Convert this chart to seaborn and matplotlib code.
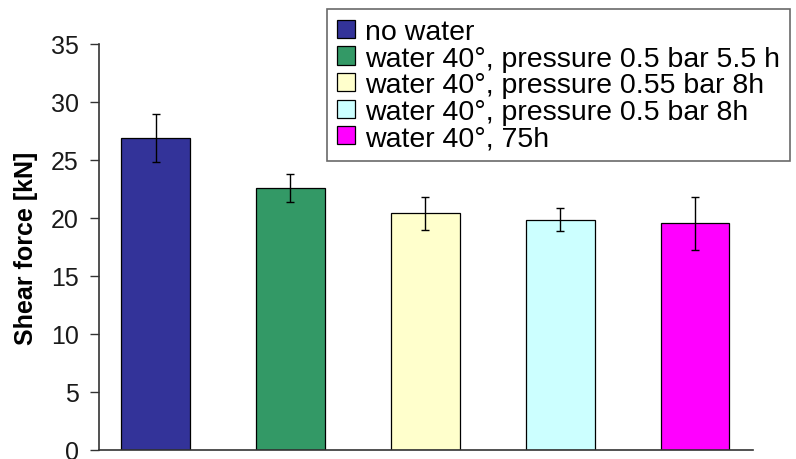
#!/usr/bin/env python3
"""Shear force by water exposure condition, bar chart with error bars."""

import matplotlib

matplotlib.use("Agg")
import matplotlib.pyplot as plt
import pandas as pd
import seaborn as sns
from matplotlib.patches import Patch

conditions = [
    "no water",
    "water 40°, pressure 0.5 bar 5.5 h",
    "water 40°, pressure 0.55 bar 8h",
    "water 40°, pressure 0.5 bar 8h",
    "water 40°, 75h",
]
shear_force = [26.9, 22.6, 20.4, 19.85, 19.55]
shear_err = [2.1, 1.2, 1.4, 1.0, 2.3]
bar_colors = ["#333399", "#339966", "#FFFFCC", "#CCFFFF", "#FF00FF"]
y_ticks = [0, 5, 10, 15, 20, 25, 30, 35]

sns.set_theme(style="white")
plt.rcParams["font.family"] = ["Liberation Sans", "DejaVu Sans"]
plt.rcParams["text.color"] = "black"

df = pd.DataFrame({"condition": conditions, "force": shear_force})

fig = plt.figure(figsize=(7.96, 4.60), dpi=100)
ax = fig.add_axes([99 / 796, 1 - 451 / 460, (753 - 99) / 796, (451 - 45) / 460])

sns.barplot(
    data=df, x="condition", y="force", hue="condition", order=conditions,
    hue_order=conditions, palette=bar_colors, width=0.51, edgecolor="black",
    linewidth=0.9, legend=False, errorbar=None, saturation=1, ax=ax,
)
ax.errorbar(
    range(len(conditions)), shear_force, yerr=shear_err, fmt="none",
    ecolor="black", elinewidth=1.0, capsize=3, capthick=1.0,
)

ax.set_xlim(-0.42, 4.43)
ax.set_ylim(0, 35)
ax.set_yticks(y_ticks)
ax.set_yticklabels([str(t) for t in y_ticks])
ax.set_xticks([])
ax.set_xlabel("")
ax.set_ylabel("Shear force [kN]", fontsize=18, fontweight="bold", labelpad=9,
              color="black")
ax.tick_params(axis="y", direction="out", length=6.5, width=1, color="#333333",
               labelsize=18, labelcolor="#1a1a1a", pad=8, left=True)
for side in ["top", "right"]:
    ax.spines[side].set_visible(False)
for side in ["left", "bottom"]:
    ax.spines[side].set_color("#333333")
    ax.spines[side].set_linewidth(1.2)

handles = [Patch(facecolor=c, edgecolor="black", linewidth=0.9) for c in bar_colors]
leg = fig.legend(
    handles, conditions, loc="upper left", bbox_to_anchor=(327 / 796, 1 - 10 / 460),
    fontsize=20.5, frameon=True, fancybox=False, borderpad=0.35, labelspacing=0.02,
    handlelength=0.65, handleheight=0.6, handletextpad=0.35, borderaxespad=0,
    labelcolor="black",
)
leg.get_frame().set_edgecolor("#444444")
leg.get_frame().set_linewidth(1.2)

fig.savefig("out.png", dpi=100)
